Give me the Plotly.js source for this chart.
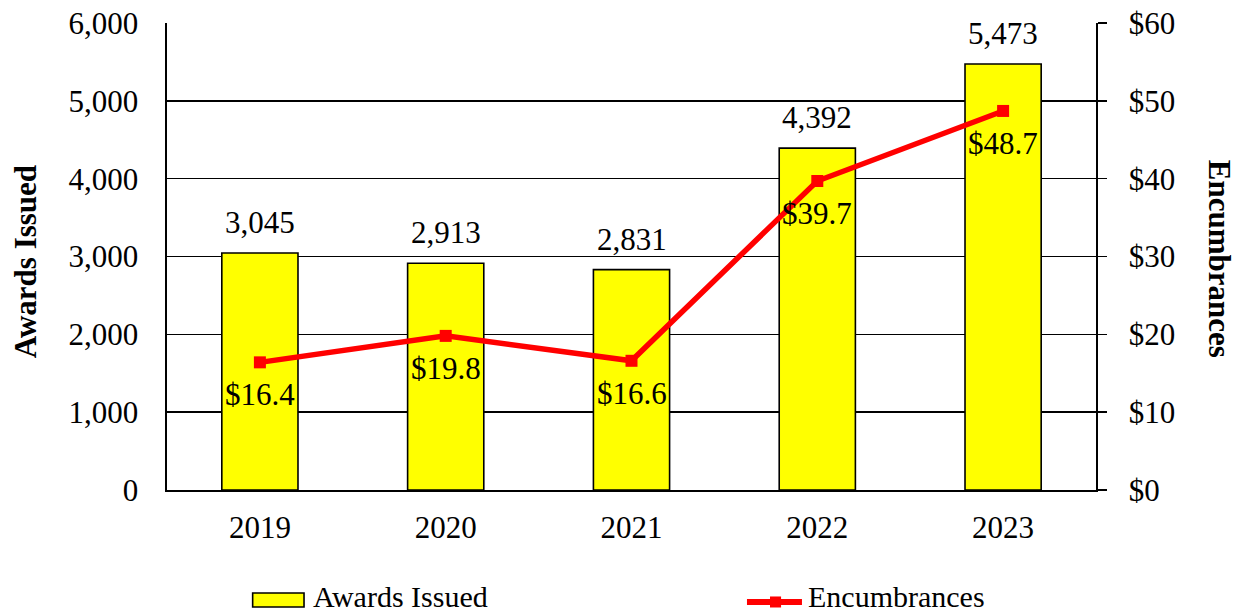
<!DOCTYPE html>
<html><head><meta charset="utf-8">
<script src="https://cdn.plot.ly/plotly-3.0.1.min.js"></script>
<style>html,body{margin:0;padding:0;background:#fff;}#chart{width:1241px;height:616px;}</style>
</head><body><div id="chart"></div>
<script>
var years = ["2019", "2020", "2021", "2022", "2023"];
var awardsIssued = [3045, 2913, 2831, 4392, 5473];
var encumbrances = [16.4, 19.8, 16.6, 39.7, 48.7];
var leftTicks = [0, 1000, 2000, 3000, 4000, 5000, 6000];
var rightTicks = [0, 10, 20, 30, 40, 50, 60];
var seriesNames = ["Awards Issued", "Encumbrances"];
var axisTitles = ["Awards Issued", "Encumbrances"];

var FONT = "Liberation Serif";
var FS = 31;

var bars = {
  type: "bar", name: seriesNames[0], x: years, y: awardsIssued,
  marker: {color: "#FFFF00", line: {color: "#000", width: 1.6}},
  width: 0.41, hoverinfo: "skip"
};
var line = {
  type: "scatter", mode: "lines+markers", name: seriesNames[1], x: years, y: encumbrances,
  yaxis: "y2", line: {color: "#FF0000", width: 5.5}, marker: {symbol: "square", size: 12, color: "#FF0000"},
  hoverinfo: "skip"
};

var annotations = [];
years.forEach(function (yr, i) {
  annotations.push({x: i, y: awardsIssued[i], xref: "x", yref: "y", text: awardsIssued[i].toLocaleString("en-US"),
    showarrow: false, yanchor: "bottom", yshift: 11, font: {family: FONT, size: FS, color: "#000"}});
  annotations.push({x: i, y: encumbrances[i], xref: "x", yref: "y2", text: "$" + encumbrances[i].toFixed(1),
    showarrow: false, yanchor: "top", yshift: -13, font: {family: FONT, size: FS, color: "#000"}});
});
annotations.push({xref: "paper", yref: "paper", x: -0.1529, y: 0.49, text: "<b>" + axisTitles[0] + "</b>", textangle: -90,
  showarrow: false, xanchor: "center", yanchor: "middle", font: {family: FONT, size: FS, color: "#000"}});
annotations.push({xref: "paper", yref: "paper", x: 1.1324, y: 0.495, text: "<b>" + axisTitles[1] + "</b>", textangle: 90,
  showarrow: false, xanchor: "center", yanchor: "middle", font: {family: FONT, size: FS, color: "#000"}});
// legend (manual, to reproduce the wide swatches)
annotations.push({xref: "paper", yref: "paper", x: 0.1545, y: -0.229, text: seriesNames[0], showarrow: false,
  xanchor: "left", yanchor: "middle", font: {family: FONT, size: 30, color: "#000"}});
annotations.push({xref: "paper", yref: "paper", x: 0.6873, y: -0.229, text: seriesNames[1], showarrow: false,
  xanchor: "left", yanchor: "middle", font: {family: FONT, size: 30, color: "#000"}});

var shapes = [
  {type: "rect", xref: "paper", yref: "paper", x0: 0.0922, x1: 0.1475, y0: -0.2505, y1: -0.2206,
    fillcolor: "#FFFF00", line: {color: "#000", width: 1.6}},
  {type: "line", xref: "paper", yref: "paper", x0: 0.6243, x1: 0.6835, y0: -0.2398, y1: -0.2398,
    line: {color: "#FF0000", width: 6}},
  {type: "rect", xref: "paper", yref: "paper", x0: 0.6491, x1: 0.6610, y0: -0.2516, y1: -0.2280,
    fillcolor: "#FF0000", line: {color: "#FF0000", width: 0}}
];

var layout = {
  width: 1241, height: 616,
  margin: {l: 167, r: 145, t: 23, b: 126},
  paper_bgcolor: "#fff", plot_bgcolor: "#fff",
  font: {family: FONT, size: FS, color: "#000"},
  showlegend: false,
  xaxis: {type: "category", range: [-0.5, 4.5], autorange: false, showline: true, linecolor: "#000", linewidth: 1.6,
    showgrid: false, zeroline: false, ticks: "outside", ticklen: 9, tickcolor: "rgba(0,0,0,0)",
    tickfont: {family: FONT, size: FS, color: "#000"}},
  yaxis: {range: [0, 6000], autorange: false, tickvals: leftTicks,
    ticktext: leftTicks.map(function (v) { return v.toLocaleString("en-US"); }),
    showline: true, linecolor: "#000", linewidth: 1.6, showgrid: true, gridcolor: "#000", gridwidth: 1.6,
    zeroline: false, ticks: "outside", ticklen: 21, tickcolor: "rgba(0,0,0,0)",
    tickfont: {family: FONT, size: FS, color: "#000"}},
  yaxis2: {range: [0, 60], autorange: false, tickvals: rightTicks,
    ticktext: rightTicks.map(function (v) { return "$" + v; }),
    overlaying: "y", side: "right", showline: true, linecolor: "#000", linewidth: 1.6, showgrid: false, zeroline: false,
    ticks: "outside", ticklen: 9, tickcolor: "#000", tickwidth: 1.6, ticklabelstandoff: 16,
    tickfont: {family: FONT, size: FS, color: "#000"}},
  annotations: annotations,
  shapes: shapes
};

Plotly.newPlot("chart", [bars, line], layout, {displayModeBar: false, staticPlot: true});
</script></body></html>
